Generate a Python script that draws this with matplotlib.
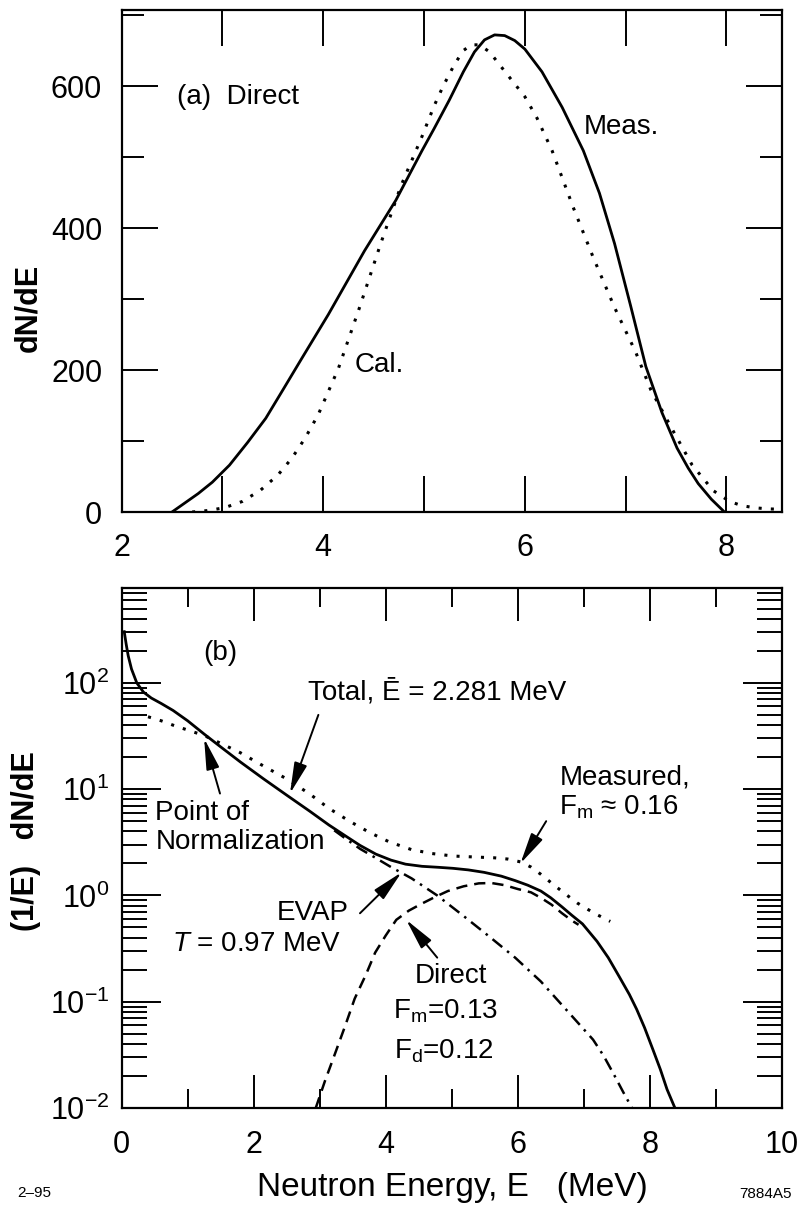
import matplotlib
matplotlib.use("Agg")
import matplotlib.pyplot as plt
from matplotlib.ticker import MultipleLocator, LogLocator, NullFormatter

plt.rcParams['font.family'] = ['Liberation Sans', 'DejaVu Sans']
plt.rcParams['mathtext.fontset'] = 'custom'
plt.rcParams['mathtext.rm'] = 'Liberation Sans'
plt.rcParams['mathtext.it'] = 'Liberation Sans:italic'

# (a) direct neutron spectrum, linear scale
meas_a_e = [2.5, 2.62, 2.76, 2.9, 3.07, 3.25, 3.43, 3.6, 3.79, 4.05, 4.41, 4.72, 4.98,
            5.1, 5.25, 5.39, 5.5, 5.6, 5.7, 5.8, 5.9, 6.0, 6.17, 6.37, 6.58, 6.74,
            6.89, 7.05, 7.2, 7.36, 7.51, 7.62, 7.72, 7.85, 7.98]
meas_a_n = [0, 12, 26, 42, 66, 98, 132, 172, 217, 278, 368, 439, 509,
            540, 580, 620, 648, 665, 672, 671, 664, 652, 620, 570, 509, 449,
            378, 290, 205, 140, 90, 62, 40, 18, 0]
cal_a_e = [2.7, 2.85, 3.02, 3.2, 3.38, 3.55, 3.69, 3.82, 3.95, 4.15, 4.36, 4.57, 4.77,
           4.98, 5.1, 5.19, 5.3, 5.39, 5.47, 5.55, 5.65, 5.76, 5.86, 6.0, 6.12, 6.27,
           6.48, 6.68, 6.89, 7.1, 7.25, 7.46, 7.66, 7.87, 8.03, 8.15, 8.28, 8.4, 8.5]
cal_a_n = [0, 2, 6, 15, 31, 52, 76, 104, 137, 202, 288, 378, 459,
           529, 572, 600, 630, 650, 658, 658, 648, 628, 610, 585, 555, 509,
           429, 358, 288, 225, 172, 117, 66, 30, 15, 9, 6, 4.5, 4]

# (b) (1/E) dN/dE, log scale
total_e = [0.04, 0.07, 0.1, 0.15, 0.23, 0.33, 0.45, 0.6, 0.78, 1.0, 1.25, 1.5, 1.8,
           2.15, 2.51, 2.85, 3.14, 3.4, 3.61, 3.85, 4.08, 4.3, 4.55, 4.8, 5.02, 5.25,
           5.49, 5.75, 5.96, 6.15, 6.35, 6.5, 6.67, 6.82, 6.98, 7.2, 7.37, 7.53, 7.69,
           7.8, 7.92, 8.05, 8.16, 8.26, 8.38]
total_y = [303, 230, 180, 135, 100, 82, 72, 64, 55, 44, 33, 25, 18,
           12.5, 8.7, 6.2, 4.6, 3.6, 2.96, 2.45, 2.15, 1.97, 1.88, 1.84, 1.80, 1.74,
           1.65, 1.52, 1.38, 1.25, 1.10, 0.95, 0.78, 0.65, 0.54, 0.37, 0.26, 0.175, 0.117,
           0.085, 0.057, 0.035, 0.023, 0.015, 0.01]
measured_e = [0.4, 0.6, 0.78, 1.0, 1.25, 1.5, 1.8, 2.15, 2.51, 2.85, 3.14, 3.45, 3.76,
              4.05, 4.39, 4.7, 5.02, 5.35, 5.65, 5.85, 6.04, 6.2, 6.35, 6.55, 6.75,
              6.9, 7.06, 7.2, 7.4]
measured_y = [48, 44, 40, 36, 32, 27, 22, 16.5, 12.4, 9, 6.6, 5.0, 3.9,
              3.2, 2.7, 2.48, 2.35, 2.3, 2.26, 2.2, 2.07, 1.85, 1.58, 1.25, 1.0,
              0.85, 0.74, 0.66, 0.57]
evap_e = [3.22, 3.4, 3.61, 3.85, 4.08, 4.39, 4.78, 5.18, 5.57, 5.96, 6.35, 6.75, 7.14,
          7.3, 7.45, 7.6, 7.73]
evap_y = [4.1, 3.4, 2.75, 2.25, 1.85, 1.45, 1.0, 0.64, 0.41, 0.26, 0.155, 0.082, 0.044,
          0.031, 0.021, 0.014, 0.01]
direct_e = [2.94, 3.08, 3.22, 3.38, 3.53, 3.7, 3.84, 4.0, 4.16, 4.35, 4.55, 4.75, 4.94,
            5.18, 5.41, 5.6, 5.8, 6.0, 6.2, 6.35, 6.51, 6.67, 6.82, 6.92]
direct_y = [0.01, 0.018, 0.031, 0.058, 0.107, 0.18, 0.29, 0.42, 0.59, 0.72, 0.84, 0.97, 1.10,
            1.22, 1.30, 1.31, 1.25, 1.15, 1.07, 0.95, 0.82, 0.68, 0.58, 0.53]

DOT = (0, (1.0, 3.0))
DASH = (0, (4.5, 2.8))
DASHDOT = (0, (5, 2.5, 1, 2.5))
ARROW = dict(arrowstyle='-|>,head_length=0.95,head_width=0.2', color='k', lw=1.4,
             shrinkA=0, shrinkB=0, mutation_scale=20)


def style_axes(ax):
    for s in ax.spines.values():
        s.set_linewidth(1.6)
    ax.tick_params(which='both', direction='in', top=True, right=True,
                   width=1.4, labelsize=22)


def main():
    fig = plt.figure(figsize=(8, 12.09), dpi=100)

    # ---- panel (a)
    ax1 = fig.add_axes([0.152, 0.5765, 0.8254, 0.4152])
    ax1.plot(meas_a_e, meas_a_n, color='k', lw=2)
    ax1.plot(cal_a_e, cal_a_n, color='k', lw=2.2, linestyle=DOT)
    ax1.set_xlim(2, 8.55)
    ax1.set_ylim(0, 707)
    ax1.xaxis.set_major_locator(MultipleLocator(2))
    ax1.xaxis.set_minor_locator(MultipleLocator(1))
    ax1.yaxis.set_major_locator(MultipleLocator(200))
    ax1.yaxis.set_minor_locator(MultipleLocator(100))
    style_axes(ax1)
    ax1.tick_params(axis='x', which='both', length=26, pad=15)
    ax1.tick_params(axis='y', which='major', length=26, pad=14)
    ax1.tick_params(axis='y', which='minor', length=16)
    ax1.text(2.55, 585, '(a)  Direct', fontsize=20, va='center')
    ax1.text(6.58, 542, 'Meas.', fontsize=20, va='center')
    ax1.text(4.31, 207, 'Cal.', fontsize=20, va='center')

    # ---- panel (b)
    ax2 = fig.add_axes([0.152, 0.0835, 0.8254, 0.4301])
    ax2.set_yscale('log')
    ax2.plot(total_e, total_y, color='k', lw=2)
    ax2.plot(measured_e, measured_y, color='k', lw=2.2, linestyle=DOT)
    ax2.plot(evap_e, evap_y, color='k', lw=1.8, linestyle=DASHDOT)
    ax2.plot(direct_e, direct_y, color='k', lw=1.8, linestyle=DASH)
    ax2.set_xlim(0, 10)
    ax2.set_ylim(0.01, 780)
    ax2.xaxis.set_major_locator(MultipleLocator(2))
    ax2.xaxis.set_minor_locator(MultipleLocator(1))
    ax2.yaxis.set_major_locator(LogLocator(base=10, numticks=10))
    ax2.yaxis.set_minor_locator(LogLocator(base=10, subs=range(2, 10), numticks=10))
    ax2.yaxis.set_minor_formatter(NullFormatter())
    style_axes(ax2)
    ax2.tick_params(axis='x', which='major', length=24, pad=16)
    ax2.tick_params(axis='x', which='minor', length=14)
    ax2.tick_params(axis='y', which='major', length=28, pad=9)
    ax2.tick_params(axis='y', which='minor', length=18)

    ax2.text(1.49, 190, '(b)', fontsize=20, ha='center', va='center')
    ax2.text(2.82, 81, 'Total, Ē = 2.281 MeV', fontsize=20, va='center')
    ax2.annotate('', xy=(2.55, 9.1), xytext=(2.98, 50), arrowprops=ARROW)
    ax2.text(0.51, 4.4, 'Point of\nNormalization', fontsize=20, va='center',
             linespacing=1.15)
    ax2.annotate('', xy=(1.25, 30), xytext=(1.49, 9.1), arrowprops=ARROW)
    ax2.text(6.63, 9.3, 'Measured,\nF$_\\mathrm{m}$ ≈ 0.16', fontsize=20,
             va='center', linespacing=1.15)
    ax2.annotate('', xy=(6.04, 2.0), xytext=(6.43, 5.0), arrowprops=ARROW)
    ax2.text(2.9, 0.68, 'EVAP', fontsize=20, ha='center', va='center')
    ax2.text(2.04, 0.35, '$\\mathit{T}$ = 0.97 MeV', fontsize=20, ha='center',
             va='center')
    ax2.annotate('', xy=(4.24, 1.65), xytext=(3.61, 0.68), arrowprops=ARROW)
    ax2.text(4.98, 0.176, 'Direct', fontsize=20, ha='center', va='center')
    ax2.text(4.9, 0.081, 'F$_\\mathrm{m}$=0.13', fontsize=20, ha='center', va='center')
    ax2.text(4.88, 0.034, 'F$_\\mathrm{d}$=0.12', fontsize=20, ha='center', va='center')
    ax2.annotate('', xy=(4.31, 0.59), xytext=(4.78, 0.26), arrowprops=ARROW)

    # axis titles and margin notes
    fig.text(0.035, 0.745, 'dN/dE', rotation=90, fontsize=22, fontweight='bold',
             ha='center', va='center')
    fig.text(0.033, 0.304, '(1/E)   dN/dE', rotation=90, fontsize=22,
             fontweight='bold', ha='center', va='center')
    fig.text(0.565, 0.018, 'Neutron Energy, E   (MeV)', fontsize=24,
             ha='center', va='center')
    fig.text(0.021, 0.013, '2–95', fontsize=11, va='center')
    fig.text(0.99, 0.012, '7884A5', fontsize=11, ha='right', va='center')

    fig.savefig('out.png', dpi=100)


if __name__ == "__main__":
    main()
